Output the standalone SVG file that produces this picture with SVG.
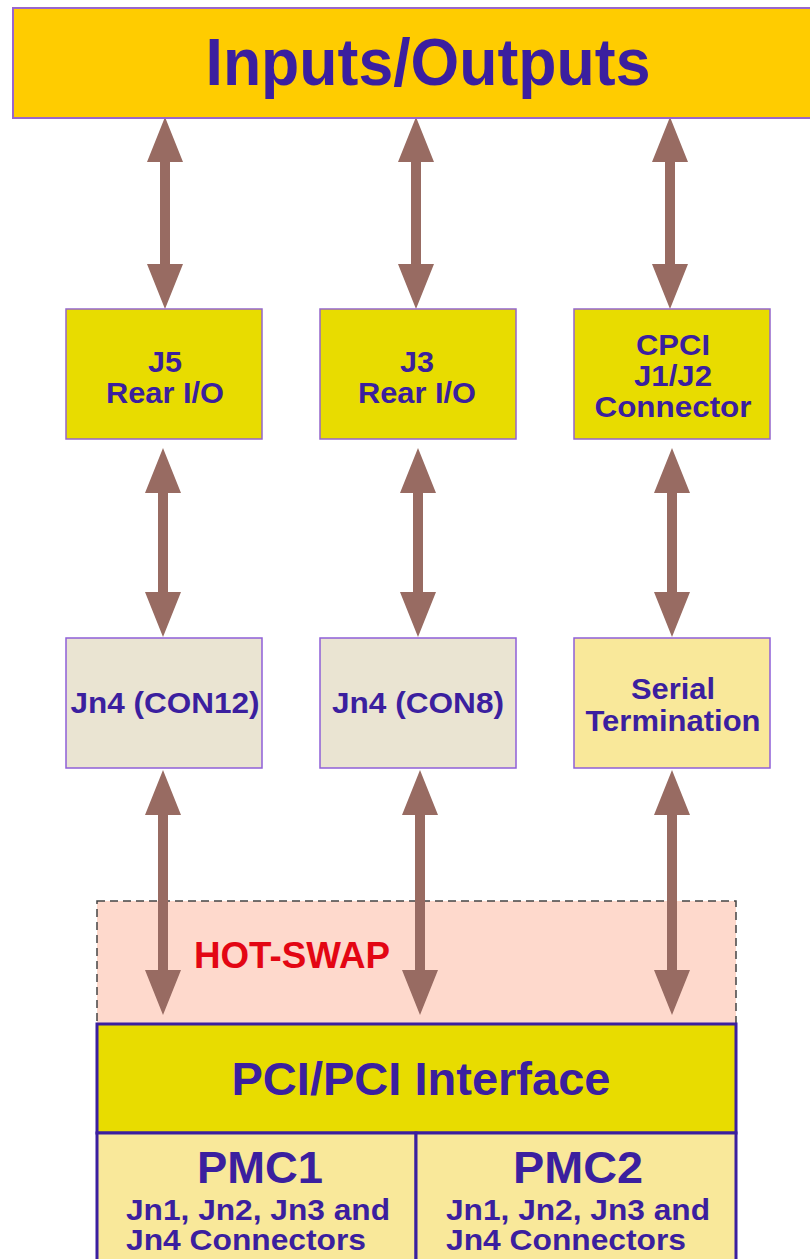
<svg xmlns="http://www.w3.org/2000/svg" width="810" height="1259" viewBox="0 0 810 1259">
<style>
text{font-family:"Liberation Sans",Arial,sans-serif;font-weight:bold;fill:#3b1f9f;text-anchor:middle}
.arrow{fill:#986b62}
.b1{fill:#e8dc00;stroke:#9466cc;stroke-width:1.5}
.b2{stroke:#8f5fd8;stroke-width:1.5}
.t27{font-size:29px}
.big{fill:#e8dc00;stroke:#3b1f9f;stroke-width:3}
.pmc{fill:#f9e89a;stroke:#3b1f9f;stroke-width:3}
.l{text-anchor:start;font-size:30px}
</style>
<g id="hotswap">
<rect x="97" y="901" width="639" height="123" fill="#fed9cc" stroke="#444" stroke-width="1.5" stroke-dasharray="8 5"/>
<text x="292" y="968" font-size="37" textLength="196" lengthAdjust="spacingAndGlyphs" style="fill:#e30613">HOT-SWAP</text>
</g>
<g id="connectors">
<polygon class="arrow" points="165,117 183,162 170,162 170,264 183,264 165,309 147,264 160,264 160,162 147,162"/>
<polygon class="arrow" points="416,117 434,162 421,162 421,264 434,264 416,309 398,264 411,264 411,162 398,162"/>
<polygon class="arrow" points="670,117 688,162 675,162 675,264 688,264 670,309 652,264 665,264 665,162 652,162"/>
<polygon class="arrow" points="163,448 181,493 168,493 168,592 181,592 163,637 145,592 158,592 158,493 145,493"/>
<polygon class="arrow" points="418,448 436,493 423,493 423,592 436,592 418,637 400,592 413,592 413,493 400,493"/>
<polygon class="arrow" points="672,448 690,493 677,493 677,592 690,592 672,637 654,592 667,592 667,493 654,493"/>
<polygon class="arrow" points="163,770 181,815 168,815 168,970 181,970 163,1015 145,970 158,970 158,815 145,815"/>
<polygon class="arrow" points="420,770 438,815 425,815 425,970 438,970 420,1015 402,970 415,970 415,815 402,815"/>
<polygon class="arrow" points="672,770 690,815 677,815 677,970 690,970 672,1015 654,970 667,970 667,815 654,815"/>
</g>
<g id="io">
<rect x="13" y="8" width="810" height="110" fill="#ffcc00" stroke="#9966cc" stroke-width="2"/>
<text x="428" y="85" font-size="66" textLength="445" lengthAdjust="spacingAndGlyphs">Inputs/Outputs</text>
</g>
<g id="j5">
<rect class="b1" x="66" y="309" width="196" height="130"/>
<text class="t27" x="165" y="372" textLength="34" lengthAdjust="spacingAndGlyphs">J5</text>
<text class="t27" x="165" y="403" textLength="118" lengthAdjust="spacingAndGlyphs">Rear I/O</text>
</g>
<g id="j3">
<rect class="b1" x="320" y="309" width="196" height="130"/>
<text class="t27" x="417" y="372" textLength="34" lengthAdjust="spacingAndGlyphs">J3</text>
<text class="t27" x="417" y="403" textLength="118" lengthAdjust="spacingAndGlyphs">Rear I/O</text>
</g>
<g id="cpci">
<rect class="b1" x="574" y="309" width="196" height="130"/>
<text class="t27" x="673" y="355" textLength="74" lengthAdjust="spacingAndGlyphs">CPCI</text>
<text class="t27" x="673" y="386" textLength="78" lengthAdjust="spacingAndGlyphs">J1/J2</text>
<text class="t27" x="673" y="417" textLength="157" lengthAdjust="spacingAndGlyphs">Connector</text>
</g>
<g id="con12">
<rect class="b2" x="66" y="638" width="196" height="130" fill="#eae4d2"/>
<text class="t27" x="165" y="713" textLength="189" lengthAdjust="spacingAndGlyphs">Jn4 (CON12)</text>
</g>
<g id="con8">
<rect class="b2" x="320" y="638" width="196" height="130" fill="#eae4d2"/>
<text class="t27" x="418" y="713" textLength="172" lengthAdjust="spacingAndGlyphs">Jn4 (CON8)</text>
</g>
<g id="serial">
<rect class="b2" x="574" y="638" width="196" height="130" fill="#f9e89a"/>
<text class="t27" x="673" y="699" textLength="84" lengthAdjust="spacingAndGlyphs">Serial</text>
<text class="t27" x="673" y="731" textLength="175" lengthAdjust="spacingAndGlyphs">Termination</text>
</g>
<g id="pci">
<rect class="big" x="97" y="1024" width="639" height="109"/>
<text x="421" y="1095" font-size="47" textLength="379" lengthAdjust="spacingAndGlyphs">PCI/PCI Interface</text>
</g>
<g id="pmc1">
<rect class="pmc" x="97" y="1133" width="319" height="140"/>
<text x="260" y="1183" font-size="45" textLength="126" lengthAdjust="spacingAndGlyphs">PMC1</text>
<text class="l" x="126" y="1220" textLength="264" lengthAdjust="spacingAndGlyphs">Jn1, Jn2, Jn3 and</text>
<text class="l" x="126" y="1250" textLength="240" lengthAdjust="spacingAndGlyphs">Jn4 Connectors</text>
</g>
<g id="pmc2">
<rect class="pmc" x="416" y="1133" width="320" height="140"/>
<text x="578" y="1183" font-size="45" textLength="130" lengthAdjust="spacingAndGlyphs">PMC2</text>
<text class="l" x="446" y="1220" textLength="264" lengthAdjust="spacingAndGlyphs">Jn1, Jn2, Jn3 and</text>
<text class="l" x="446" y="1250" textLength="240" lengthAdjust="spacingAndGlyphs">Jn4 Connectors</text>
</g>
</svg>
